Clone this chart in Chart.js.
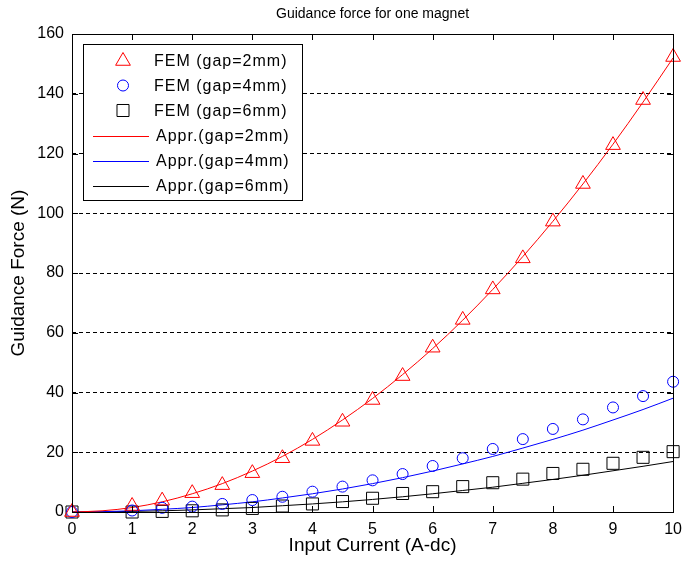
<!DOCTYPE html>
<html><head><meta charset="utf-8">
<script src="https://cdn.jsdelivr.net/npm/chart.js"></script>
<style>html,body{margin:0;padding:0;background:#fff}canvas{display:block}</style>
</head><body>
<canvas id="c" width="690" height="568"></canvas>
<script>
// ---- data ----
const femCurrent = [0, 1, 1.5, 2, 2.5, 3, 3.5, 4, 4.5, 5, 5.5, 6, 6.5, 7, 7.5, 8, 8.5, 9, 9.5, 10];
const femGap2 = [0, 2.0, 3.8, 6.3, 9.0, 13.0, 18.0, 23.8, 30.2, 37.5, 45.5, 55.0, 64.3, 74.5, 84.9, 97.2, 109.8, 122.8, 137.9, 152.3];
const femGap4 = [0, 0.5, 1.4, 1.8, 2.7, 4.0, 5.1, 6.8, 8.5, 10.6, 12.7, 15.4, 18.0, 21.1, 24.4, 27.8, 31.0, 35.0, 38.8, 43.6];
const femGap6 = [0, 0, 0.2, 0.4, 0.7, 1.2, 2.0, 2.7, 3.5, 4.6, 6.2, 6.8, 8.5, 9.8, 11.0, 12.9, 14.3, 16.3, 18.3, 20.2];

const apprCurrent = [0, 0.5, 1, 1.5, 2, 2.5, 3, 3.5, 4, 4.5, 5, 5.5, 6, 6.5, 7, 7.5, 8, 8.5, 9, 9.5, 10];
const apprGap2 = [0, 0.4, 1.5, 3.4, 6.1, 9.5, 13.7, 18.6, 24.3, 30.8, 38.0, 46.0, 54.7, 64.2, 74.5, 85.5, 97.3, 109.8, 123.1, 137.2, 152.0];
const apprGap4 = [0, 0.1, 0.4, 0.9, 1.5, 2.4, 3.4, 4.7, 6.1, 7.7, 9.5, 11.5, 13.7, 16.1, 18.6, 21.4, 24.3, 27.4, 30.8, 34.3, 38.1];
const apprGap6 = [0, 0.05, 0.2, 0.4, 0.7, 1.1, 1.5, 2.1, 2.7, 3.4, 4.2, 5.1, 6.1, 7.2, 8.3, 9.6, 10.9, 12.3, 13.8, 15.3, 16.9];

const seriesNames = ['FEM (gap=2mm)', 'FEM (gap=4mm)', 'FEM (gap=6mm)', 'Appr.(gap=2mm)', 'Appr.(gap=4mm)', 'Appr.(gap=6mm)'];
const seriesColors = ['#ff0000', '#0000ff', '#000000', '#ff0000', '#0000ff', '#000000'];
const xTickValues = [0, 1, 2, 3, 4, 5, 6, 7, 8, 9, 10];
const yTickValues = [0, 20, 40, 60, 80, 100, 120, 140, 160];

const titleText = 'Guidance force for one magnet';
const xTitle = 'Input Current (A-dc)';
const yTitle = 'Guidance Force (N)';

// ---- build ----
const pts = (xs, ys) => xs.map((x, i) => ({x: x, y: ys[i]}));
const FONT = "'Liberation Sans', Arial, Helvetica, sans-serif";
Chart.defaults.font.family = FONT;
Chart.defaults.color = '#000';

const markerDs = (i, data, style, r) => ({
  type: 'scatter', label: seriesNames[i], data, showLine: false, clip: false,
  pointStyle: style, pointRadius: r, pointHoverRadius: r,
  borderColor: seriesColors[i], backgroundColor: 'rgba(0,0,0,0)', pointBorderWidth: 1, borderWidth: 1
});
const lineDs = (i, data) => ({
  type: 'line', label: seriesNames[i], data, showLine: true, clip: false,
  borderColor: seriesColors[i], backgroundColor: seriesColors[i], borderWidth: 1,
  pointRadius: 0, cubicInterpolationMode: 'monotone', fill: false
});

const datasets = [
  markerDs(0, pts(femCurrent, femGap2), 'triangle', 8.5),
  markerDs(1, pts(femCurrent, femGap4), 'circle', 5.5),
  markerDs(2, pts(femCurrent, femGap6), 'rect', 8.5),
  lineDs(3, pts(apprCurrent, apprGap2)),
  lineDs(4, pts(apprCurrent, apprGap4)),
  lineDs(5, pts(apprCurrent, apprGap6))
];
const legendStyles = ['triangle', 'circle', 'rect', 'line', 'line', 'line'];
const legendRadius = [8.5, 5.5, 8.5, 0, 0, 0];

// box + inward ticks
const boxPlugin = {
  id: 'box',
  afterDraw(chart) {
    const {ctx, chartArea: a, scales: {x, y}} = chart;
    ctx.save();
    ctx.strokeStyle = '#000';
    ctx.lineWidth = 1;
    ctx.setLineDash([]);
    ctx.strokeRect(Math.round(a.left) + 0.5, Math.round(a.top) + 0.5, Math.round(a.right - a.left), Math.round(a.bottom - a.top));
    const L = 6;
    ctx.beginPath();
    xTickValues.forEach(v => {
      const px = Math.round(x.getPixelForValue(v)) + 0.5;
      ctx.moveTo(px, a.bottom); ctx.lineTo(px, a.bottom - L);
      ctx.moveTo(px, a.top); ctx.lineTo(px, a.top + L);
    });
    yTickValues.forEach(v => {
      const py = Math.round(y.getPixelForValue(v)) + 0.5;
      ctx.moveTo(a.left, py); ctx.lineTo(a.left + L, py);
      ctx.moveTo(a.right, py); ctx.lineTo(a.right - L, py);
    });
    ctx.stroke();
    ctx.restore();
  }
};

// MATLAB-like legend inside the axes
const legendPlugin = {
  id: 'mlegend',
  afterDraw(chart) {
    const {ctx} = chart;
    const bx = 83, by = 44, bw = 219, bh = 156;
    ctx.save();
    ctx.fillStyle = '#fff';
    ctx.fillRect(bx, by, bw, bh);
    ctx.strokeStyle = '#000';
    ctx.lineWidth = 1;
    ctx.strokeRect(bx + 0.5, by + 0.5, bw, bh);
    const rowY = [61, 85.5, 110.5, 136, 161, 186];
    const mx = 123;
    seriesNames.forEach((name, i) => {
      const yy = rowY[i];
      const st = legendStyles[i], r = legendRadius[i];
      ctx.strokeStyle = seriesColors[i];
      ctx.lineWidth = 1;
      ctx.setLineDash([]);
      ctx.beginPath();
      if (st === 'line') {
        ctx.moveTo(93, Math.round(yy) + 0.5); ctx.lineTo(149, Math.round(yy) + 0.5);
      } else if (st === 'triangle') {
        ctx.moveTo(mx, yy - r);
        ctx.lineTo(mx + Math.sin(2 * Math.PI / 3) * r, yy - Math.cos(2 * Math.PI / 3) * r);
        ctx.lineTo(mx + Math.sin(4 * Math.PI / 3) * r, yy - Math.cos(4 * Math.PI / 3) * r);
        ctx.closePath();
      } else if (st === 'circle') {
        ctx.arc(mx, yy, r, 0, Math.PI * 2);
      } else {
        const s = r * Math.SQRT1_2;
        ctx.rect(mx - s, yy - s, 2 * s, 2 * s);
      }
      ctx.stroke();
      ctx.fillStyle = '#000';
      ctx.font = '16px ' + FONT;
      ctx.textBaseline = 'middle';
      ctx.textAlign = 'left';
      try { ctx.letterSpacing = '1px'; } catch (e) {}
      ctx.fillText(name, st === 'line' ? 156 : 154, yy + 1);
    });
    ctx.restore();
  }
};

new Chart(document.getElementById('c'), {
  type: 'scatter',
  data: {datasets},
  options: {
    responsive: false,
    animation: false,
    layout: {padding: {left: 0, right: 7, top: 0, bottom: 0}},
    plugins: {
      legend: {display: false},
      tooltip: {enabled: false},
      title: {
        display: true, fullSize: false, text: titleText, color: '#000',
        font: {size: 14, weight: 'normal', family: FONT},
        padding: {top: 6, bottom: 11.2}
      }
    },
    scales: {
      x: {
        type: 'linear', min: 0, max: 10,
        afterFit: s => { s.height = 56; },
        afterBuildTicks: s => { s.ticks = xTickValues.map(v => ({value: v})); },
        ticks: {font: {size: 16}, padding: 8, maxRotation: 0, color: '#000'},
        grid: {display: false, drawTicks: false},
        border: {display: false},
        title: {display: true, text: xTitle, font: {size: 19}, color: '#000', padding: {top: 0, bottom: 11}}
      },
      y: {
        type: 'linear', min: 0, max: 160,
        afterFit: s => { s.width = 72; },
        afterBuildTicks: s => { s.ticks = yTickValues.map(v => ({value: v})); },
        ticks: {font: {size: 16}, padding: 8, color: '#000'},
        grid: {
          display: true, drawTicks: false, lineWidth: 1,
          color: ctx => (ctx.tick && (ctx.tick.value === 0 || ctx.tick.value === 160)) ? 'rgba(0,0,0,0)' : '#000'
        },
        border: {display: false, dash: [4, 3]},
        title: {display: true, text: yTitle, font: {size: 19}, color: '#000', padding: {top: 7, bottom: 0}}
      }
    }
  },
  plugins: [boxPlugin, legendPlugin]
});
</script>
</body></html>
